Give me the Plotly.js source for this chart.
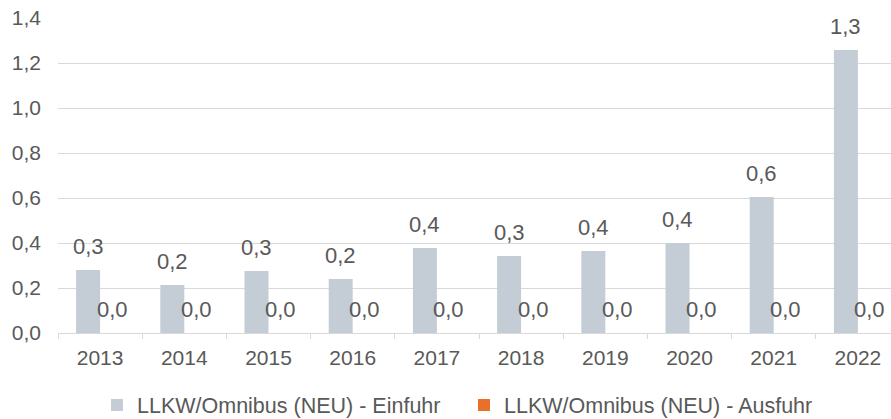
<!DOCTYPE html>
<html>
<head>
<meta charset="utf-8">
<script src="https://cdn.plot.ly/plotly-3.0.1.min.js"></script>
<style>
html,body{margin:0;padding:0;background:#fff;}
#chart{width:891px;height:419px;}
#err{position:absolute;left:300px;top:0;font:12px sans-serif;color:red;}
</style>
</head>
<body>
<div id="chart"></div>
<div id="err"></div>
<script>
window.onerror = function(m){ document.getElementById('err').textContent += ' ' + m; };
var years = ['2013','2014','2015','2016','2017','2018','2019','2020','2021','2022'];
var einfuhr = [0.28, 0.213, 0.276, 0.24, 0.378, 0.342, 0.364, 0.40, 0.604, 1.258];
var ausfuhr = [0, 0, 0, 0, 0, 0, 0, 0, 0, 0];
var seriesNames = ['LLKW/Omnibus (NEU) - Einfuhr', 'LLKW/Omnibus (NEU) - Ausfuhr'];
var yTicks = [0, 0.2, 0.4, 0.6, 0.8, 1.0, 1.2, 1.4];

var FONT = 'Liberation Sans, Arial, sans-serif';
var TXT = '#595959';
var GRAY = '#C4CDD6';
var ORANGE = '#E8702A';

function fmt(v){ return v.toFixed(1).replace('.', ','); }

var traces = [
  {type:'bar', name:seriesNames[0], x:years, y:einfuhr, marker:{color:GRAY}, hoverinfo:'none'},
  {type:'bar', name:seriesNames[1], x:years, y:ausfuhr, marker:{color:ORANGE}, hoverinfo:'none'}
];

var annotations = [];
years.forEach(function(yr, i){
  annotations.push({x:i, y:einfuhr[i], xref:'x', yref:'y', text:fmt(einfuhr[i]), showarrow:false,
    xshift:-12, yshift:9, yanchor:'bottom', xanchor:'center', font:{family:FONT, size:22, color:TXT}});
  annotations.push({x:i, y:ausfuhr[i], xref:'x', yref:'y', text:fmt(ausfuhr[i]), showarrow:false,
    xshift:12, yshift:9, yanchor:'bottom', xanchor:'center', font:{family:FONT, size:22, color:TXT}});
});

var layout = {
  width:891, height:419,
  margin:{l:58, r:0, t:18, b:86},
  paper_bgcolor:'#fff', plot_bgcolor:'#fff',
  separators:',.',
  font:{family:FONT, size:21, color:TXT},
  barmode:'group',
  bargap:0.43,
  bargroupgap:0,
  showlegend:true,
  legend:{orientation:'h', x:0.0468, xanchor:'left', yref:'container', y:0.0334, yanchor:'middle',
    font:{family:FONT, size:21.5, color:TXT}, entrywidth:322, entrywidthmode:'pixels',
    itemclick:false, itemdoubleclick:false},
  xaxis:{type:'category', range:[-0.5, 9.393], showgrid:false, showline:true, linecolor:'#D9D9D9', linewidth:1,
    ticks:'outside', tickson:'boundaries', ticklen:5, tickcolor:'#D9D9D9', tickwidth:1, ticklabelstandoff:6,
    tickfont:{family:FONT, size:21, color:TXT}, fixedrange:true, zeroline:false},
  yaxis:{range:[0, 1.4], tickvals:yTicks, tickformat:'.1f', showgrid:true, gridcolor:'#D9D9D9', gridwidth:1,
    showline:false, zeroline:false, ticks:'', ticklabelstandoff:16,
    tickfont:{family:FONT, size:21, color:TXT}, fixedrange:true},
  annotations:annotations
};

Plotly.newPlot('chart', traces, layout, {displayModeBar:false}).catch(function(e){
  document.getElementById('err').textContent += ' ' + e;
});
</script>
</body>
</html>
